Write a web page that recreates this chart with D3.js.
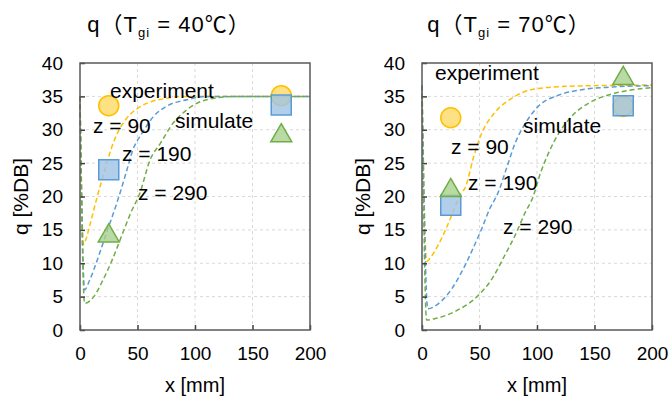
<!DOCTYPE html>
<html>
<head>
<meta charset="utf-8">
<script src="https://cdn.jsdelivr.net/npm/d3@7/dist/d3.min.js"></script>
<style>
  body { margin: 0; background: #fff; }
  text { font-family: "Liberation Sans", "Noto Sans CJK JP", sans-serif; fill: #000; }
</style>
</head>
<body>
<div id="chart"></div>
<script>
// Axis ticks
var xTicks = [0, 50, 100, 150, 200];
var yTicks = [0, 5, 10, 15, 20, 25, 30, 35, 40];

// Experiment positions (x in mm)
var expX = [25, 175];

// Tgi = 40C : experiment
var exp40Circle = [33.6, 35.1];
var exp40Square = [24.0, 33.7];
var exp40Triangle = [14.1, 29.1];

// Tgi = 40C : simulation
var sim40Z90X  = [0, 3, 5, 9, 15, 20, 25, 30, 35, 40, 50, 60, 75, 90, 120, 200];
var sim40Z90Q  = [35, 12.8, 13.5, 16, 20, 23, 26, 28.5, 30.3, 31.6, 33.2, 34.1, 34.7, 35, 35, 35];
var sim40Z190X = [0, 4, 8, 13, 18, 25, 32, 40, 46, 54, 64, 75, 93, 110, 200];
var sim40Z190Q = [35, 6, 7.3, 9.5, 12, 15.5, 19, 23.5, 27, 29.5, 32, 33.5, 34.5, 35, 35];
var sim40Z290X = [0, 4, 12, 20, 28, 36, 44, 52, 61, 70, 81, 93, 110, 135, 200];
var sim40Z290Q = [35, 4, 5, 7.5, 10.5, 14, 17.5, 20.5, 25.5, 28, 31, 33, 34.5, 35, 35];

// Tgi = 70C : experiment
var exp70Circle = [31.8, 33.5];
var exp70Square = [18.7, 33.6];
var exp70Triangle = [20.9, 37.7];

// Tgi = 70C : simulation
var sim70Z90X  = [0, 4, 8, 14, 21, 27, 33, 38, 45, 52, 63, 78, 95, 125, 200];
var sim70Z90Q  = [36.7, 10.3, 11, 12.7, 15.2, 17.7, 20.2, 21.5, 26, 29.5, 32.5, 34.7, 36, 36.5, 36.7];
var sim70Z190X = [0, 5, 16, 26, 34.5, 43, 52, 59, 66, 74, 81, 90, 101, 119, 139, 165, 200];
var sim70Z190Q = [36.7, 3.2, 4.2, 6.2, 8.7, 11.7, 15.2, 18.2, 20.5, 24.5, 28, 31, 33.5, 35.2, 36, 36.4, 36.6];
var sim70Z290X = [0, 4, 11, 29, 49, 61, 72, 81, 90, 96, 103, 110, 119, 130, 145, 162, 180, 200];
var sim70Z290Q = [36.5, 1.5, 1.7, 2.8, 5.2, 7.7, 11.2, 14.2, 17.7, 19.7, 23.5, 26.5, 29.5, 32, 34, 35.2, 35.9, 36.3];

// Labels
var labelTexts = ["experiment", "simulate", "z = 90", "z = 190", "z = 290"];

var colors = { yellow: "#FFC000", blue: "#5B9BD5", green: "#70AD47" };
var fills = { yellow: "#FFD966", blue: "#9DC3E6", green: "#A9D18E" };

var svg = d3.select("#chart").append("svg")
  .attr("width", 669)
  .attr("height", 399);

function zip(xs, qs) {
  return xs.map(function(x, i) { return { x: x, q: qs[i] }; });
}

function drawPanel(p) {
  var xScale = d3.scaleLinear().domain([0, 200]).range([p.left, p.right]);
  var yScale = d3.scaleLinear().domain([0, 40]).range([p.bottom, p.top]);
  var g = svg.append("g");

  // grid
  g.selectAll(".gx").data(xTicks.slice(1, -1)).enter().append("line")
    .attr("x1", d => xScale(d)).attr("x2", d => xScale(d))
    .attr("y1", p.top).attr("y2", p.bottom)
    .attr("stroke", "#D9D9D9").attr("stroke-dasharray", "3,3");
  g.selectAll(".gy").data(yTicks.slice(1, -1)).enter().append("line")
    .attr("x1", p.left).attr("x2", p.right)
    .attr("y1", d => yScale(d)).attr("y2", d => yScale(d))
    .attr("stroke", "#D9D9D9").attr("stroke-dasharray", "3,3");

  // simulation curves
  var line = d3.line()
    .x(d => xScale(d.x))
    .y(d => yScale(d.q))
    .curve(d3.curveMonotoneX);
  p.sims.forEach(function(s) {
    g.append("path")
      .datum(zip(s.x, s.q))
      .attr("d", line)
      .attr("fill", "none")
      .attr("stroke", colors[s.c])
      .attr("stroke-width", 1.5)
      .attr("stroke-dasharray", "5,3");
  });

  // experiment markers
  var shapes = [
    { v: p.circle, t: d3.symbolCircle, s: 314, c: "yellow" },
    { v: p.square, t: d3.symbolSquare, s: 400, c: "blue" },
    { v: p.triangle, t: d3.symbolTriangle, s: 190, c: "green" }
  ];
  shapes.forEach(function(sh) {
    g.selectAll(null).data(sh.v).enter().append("path")
      .attr("d", d3.symbol().type(sh.t).size(sh.s))
      .attr("transform", (d, i) => `translate(${xScale(expX[i])}, ${yScale(d)})`)
      .attr("fill", fills[sh.c])
      .attr("fill-opacity", 0.8)
      .attr("stroke", colors[sh.c])
      .attr("stroke-width", 1.5);
  });

  // axes with inner ticks
  var bottomAxis = d3.axisBottom(xScale).tickValues(xTicks).tickSizeInner(-5).tickSizeOuter(0).tickPadding(17);
  var leftAxis = d3.axisLeft(yScale).tickValues(yTicks).tickSizeInner(-5).tickSizeOuter(0).tickPadding(17);
  var xAxis = g.append("g").attr("transform", `translate(0, ${p.bottom})`).call(bottomAxis);
  var yAxis = g.append("g").attr("transform", `translate(${p.left}, 0)`).call(leftAxis);
  [xAxis, yAxis].forEach(function(a) {
    a.select(".domain").remove();
    a.selectAll("line").attr("stroke", "#404040").attr("stroke-width", 1.5);
    a.selectAll("text").attr("font-size", "19px").attr("font-family", null);
  });

  // plot border
  g.append("rect")
    .attr("x", p.left).attr("y", p.top)
    .attr("width", p.right - p.left).attr("height", p.bottom - p.top)
    .attr("fill", "none").attr("stroke", "#595959").attr("stroke-width", 1.5);

  // axis titles
  g.append("text")
    .attr("x", (p.left + p.right) / 2).attr("y", 392)
    .attr("text-anchor", "middle").attr("font-size", "20px")
    .text("x [mm]");
  g.append("text")
    .attr("transform", `translate(${p.left - 52}, ${(p.top + p.bottom) / 2}) rotate(-90)`)
    .attr("text-anchor", "middle").attr("font-size", "21px")
    .text("q [%DB]");

  // title
  var title = g.append("text")
    .attr("x", p.titleX).attr("y", 32)
    .attr("text-anchor", "middle").attr("font-size", "22px")
    .attr("letter-spacing", "1px");
  title.append("tspan").text("q（T");
  title.append("tspan").attr("dy", 5).attr("font-size", "13px").text("gi");
  title.append("tspan").attr("dy", -5).text("\u00a0=\u00a0" + p.temp + "℃）");

  // annotations
  labelTexts.forEach(function(t, i) {
    g.append("text")
      .attr("x", p.labelPos[i][0]).attr("y", p.labelPos[i][1])
      .attr("font-size", "21px")
      .text(t);
  });
}

drawPanel({
  left: 80, right: 310, top: 63, bottom: 330, titleX: 169, temp: 40,
  circle: exp40Circle, square: exp40Square, triangle: exp40Triangle,
  sims: [
    { x: sim40Z90X, q: sim40Z90Q, c: "yellow" },
    { x: sim40Z190X, q: sim40Z190Q, c: "blue" },
    { x: sim40Z290X, q: sim40Z290Q, c: "green" }
  ],
  labelPos: [[110, 98], [175, 128], [93, 133], [122, 161], [138, 200]]
});

drawPanel({
  left: 422, right: 652, top: 63, bottom: 330, titleX: 509, temp: 70,
  circle: exp70Circle, square: exp70Square, triangle: exp70Triangle,
  sims: [
    { x: sim70Z90X, q: sim70Z90Q, c: "yellow" },
    { x: sim70Z190X, q: sim70Z190Q, c: "blue" },
    { x: sim70Z290X, q: sim70Z290Q, c: "green" }
  ],
  labelPos: [[435, 80], [523, 133], [451, 154], [468, 190], [503, 234]]
});
</script>
</body>
</html>
